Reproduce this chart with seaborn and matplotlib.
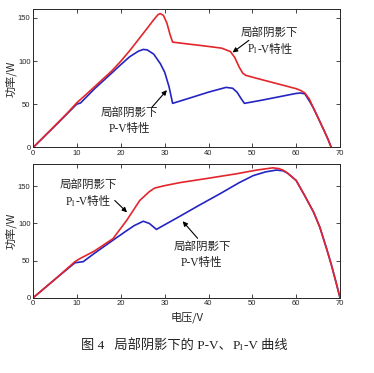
import numpy as np
import pandas as pd
import matplotlib
matplotlib.use("Agg")
import matplotlib.pyplot as plt
import seaborn as sns
from matplotlib.offsetbox import TextArea, HPacker, VPacker, AnnotationBbox

# ---- data ----
v_top_pv = [0, 5, 9.9, 10.8, 14, 18.2, 20, 22, 24, 25.1, 26, 27.5, 29, 30, 31, 31.8,
            35, 40, 44, 45.5, 46.5, 47.5, 48.2, 52, 56, 60, 61, 62, 63.1, 64, 65.4, 66.5, 67.3, 68]
p_top_pv = [0, 25, 50, 51.5, 68, 87.5, 96, 105, 111.5, 113.5, 113, 108, 97, 87, 70, 51,
            56, 64, 69.5, 68.5, 64, 56, 51, 54.5, 58.5, 62.5, 63, 62, 53, 45, 30, 18, 9, 0]

v_top_pl = [0, 5, 8, 10, 12, 15, 18, 20, 22, 24, 26, 27.5, 28.5, 29, 29.7, 30.5, 31.2, 31.8,
            35, 39, 43, 45, 46, 47, 47.8, 48.5, 51, 54, 57, 60, 61, 62, 63, 64, 65.4, 66.5, 67.3, 68]
p_top_pl = [0, 25.5, 41, 52, 61, 75, 89, 100, 112, 125, 138, 148, 154, 155, 153, 144, 131, 122,
            120, 117.6, 115, 111, 104, 93, 86, 83.5, 80, 76, 72, 68, 66, 63, 56, 45, 30, 18, 9, 0]

v_bot_pv = [0, 5, 9.5, 11.4, 14, 18.2, 21, 23, 25.1, 26.5, 28.1, 33.4, 38, 42.6, 47, 50.2,
            53, 55.5, 57, 58, 60, 62, 64, 65.4, 67, 68, 69, 70]
p_bot_pv = [0, 25, 47, 48.5, 60, 77.5, 89, 97, 103, 100, 92, 109.5, 125, 140, 155, 164.5,
            169.5, 172, 171, 168, 158, 137, 115, 95, 65, 45, 23, 0]

v_bot_pl = [0, 5, 9.5, 10.6, 14, 18.2, 21.3, 24.3, 26.5, 27.7, 30, 33.4, 40, 46.4, 51, 54.7,
            56, 57, 58, 60, 62, 64, 65.4, 67, 68, 69, 70]
p_bot_pl = [0, 25, 48.5, 52.5, 63, 79.6, 104, 131, 143, 147.7, 151, 155, 161, 167, 172, 175,
            174, 172, 168, 158, 137, 115, 95, 65, 45, 23, 0]

x_ticks = [0, 10, 20, 30, 40, 50, 60, 70]
y_ticks = [0, 50, 100, 150]
label_line1 = "局部阴影下"
label_pv = "P-V特性"
label_pl_sym = "P$_{\\mathrm{l}}$"
label_pl_rest = "-V特性"
ylabel = "功率/W"
xlabel = "电压/V"
caption_a = "图 4   局部阴影下的 P-V、"
caption_b = "-V 曲线"

# ---- style ----
sns.set_style("ticks")
plt.rcParams["mathtext.fontset"] = "stix"
plt.rcParams["xtick.direction"] = "in"
plt.rcParams["ytick.direction"] = "in"
plt.rcParams["xtick.top"] = True
plt.rcParams["ytick.right"] = True
plt.rcParams["axes.linewidth"] = 0.7
TXT = ["Liberation Serif", "Noto Sans CJK SC"]
CJK = ["Noto Sans CJK SC", "DejaVu Sans"]
TCOL = "#222222"

RED = "#e3262b"
BLUE = "#2424c4"

fig = plt.figure(figsize=(3.74, 3.73), dpi=100)
ax1 = fig.add_axes([0.089, 0.605, 0.82, 0.370])
ax2 = fig.add_axes([0.089, 0.202, 0.82, 0.358])

def draw(ax, vpv, ppv, vpl, ppl, ymax):
    df_pv = pd.DataFrame({"V": vpv, "P": ppv})
    df_pl = pd.DataFrame({"V": vpl, "P": ppl})
    sns.lineplot(data=df_pv, x="V", y="P", ax=ax, color=BLUE, lw=1.2, sort=False)
    sns.lineplot(data=df_pl, x="V", y="P", ax=ax, color=RED, lw=1.2, sort=False)
    ax.set_xlim(0, 70)
    ax.set_ylim(0, ymax)
    ax.set_xticks(x_ticks)
    ax.set_yticks(y_ticks)
    ax.tick_params(length=3, width=0.6, labelsize=5.5, pad=2)
    for lab in ax.get_xticklabels() + ax.get_yticklabels():
        lab.set_fontfamily("Liberation Sans")
    ax.set_xlabel("")
    ax.set_ylabel(ylabel, fontfamily=CJK, fontsize=8, labelpad=1)
    for s in ax.spines.values():
        s.set_visible(True)

draw(ax1, v_top_pv, p_top_pv, v_top_pl, p_top_pl, 160)
draw(ax2, v_bot_pv, p_bot_pv, v_bot_pl, p_bot_pl, 180)
ax2.set_xlabel(xlabel, fontfamily=CJK, fontsize=8, labelpad=3)

arrow = dict(arrowstyle="-|>", color="black", lw=0.8, mutation_scale=7, shrinkA=0, shrinkB=0)

def ta(s, size=8.3):
    return TextArea(s, textprops=dict(fontfamily=TXT, fontsize=size, color=TCOL))

def second_line(kind):
    if kind == "pv":
        return ta(label_pv)
    return HPacker(children=[ta(label_pl_sym), ta(label_pl_rest)], align="baseline", pad=0, sep=0)

def note(ax, kind, tx, ty, tail, head):
    box = VPacker(children=[ta(label_line1), second_line(kind)], align="center", pad=0, sep=3)
    ab = AnnotationBbox(box, (tx, ty), xycoords="data", frameon=False, box_alignment=(0.5, 0.5))
    ax.add_artist(ab)
    ax.annotate("", xy=head, xytext=tail, arrowprops=arrow)

note(ax1, "pl", 54, 123, (49.2, 124), (45.5, 110))
note(ax1, "pv", 22, 31, (27.1, 46.6), (30.5, 66.3))
note(ax2, "pl", 12.5, 140, (18.6, 131), (21.4, 115))
note(ax2, "pv", 38.5, 57, (37.5, 80), (34.1, 103))

cap = HPacker(children=[ta(caption_a, 9.5), ta(label_pl_sym, 9.5), ta(caption_b, 9.5)],
              align="baseline", pad=0, sep=0)
ab = AnnotationBbox(cap, (0.492, 1 - 346 / 373), xycoords="figure fraction", frameon=False,
                    box_alignment=(0.5, 0.5))
fig.add_artist(ab)

fig.savefig("out.png", dpi=100)
